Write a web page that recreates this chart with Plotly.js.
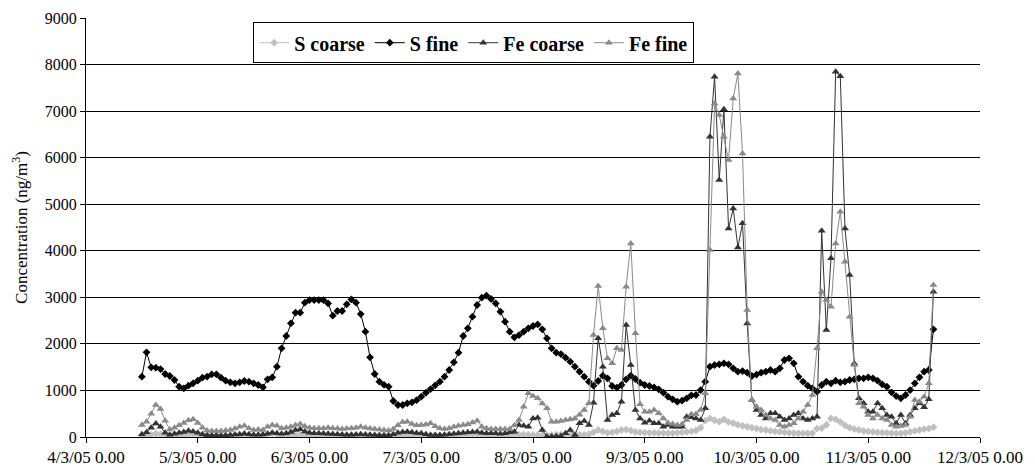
<!DOCTYPE html>
<html>
<head>
<meta charset="utf-8">
<script src="https://cdn.plot.ly/plotly-3.0.1.min.js"></script>
<style>html,body{margin:0;padding:0;background:#fff}#chart{width:1035px;height:470px}</style>
</head>
<body>
<div id="chart"></div>
<script>
// Hourly samples starting 4 March 2005 12:00
const startTime = Date.UTC(2005, 2, 4, 12, 0, 0);
const stepHours = 1;

const sCoarse = [30,40,50,70,60,40,30,30,35,40,50,60,50,40,30,25,25,25,25,30,30,35,40,35,30,30,40,60,80,60,40,35,40,45,50,45,40,35,35,35,35,30,30,30,30,35,40,40,35,30,25,25,25,25,30,35,40,45,40,35,35,35,30,30,30,35,40,45,50,50,55,60,55,50,45,40,40,35,35,40,45,50,55,50,45,45,40,40,45,50,55,60,45,45,50,50,60,100,150,120,90,100,120,150,160,140,110,100,95,90,90,85,85,80,85,90,100,110,120,140,200,350,400,360,330,380,320,300,260,240,220,200,180,160,150,130,120,110,100,90,85,80,80,75,80,180,190,260,400,380,320,250,200,170,150,130,120,110,100,95,90,85,80,80,90,110,130,150,170,180,210];

const sFine = [1296,1818,1496,1490,1460,1353,1310,1224,1081,1045,1102,1152,1210,1274,1296,1346,1346,1274,1210,1174,1152,1174,1203,1188,1152,1117,1067,1238,1281,1510,1904,2169,2441,2670,2670,2885,2942,2942,2942,2942,2870,2606,2706,2706,2849,2956,2885,2641,2262,1711,1353,1188,1120,1081,773,687,687,723,744,790,866,950,1030,1110,1188,1296,1439,1603,1811,2169,2334,2584,2835,2992,3035,2964,2870,2691,2477,2262,2140,2190,2262,2334,2384,2419,2312,2119,1904,1811,1782,1704,1618,1510,1403,1296,1188,1102,1203,1317,1260,1095,1059,1117,1238,1317,1246,1167,1117,1095,1067,1024,952,866,809,759,780,830,895,902,1009,1188,1510,1546,1560,1582,1560,1475,1403,1417,1382,1310,1340,1382,1403,1439,1403,1475,1654,1689,1582,1296,1188,1102,1045,974,1117,1188,1152,1210,1174,1188,1224,1238,1260,1260,1281,1260,1210,1131,1081,960,880,830,902,1009,1152,1281,1403,1439,2312];

const feCoarse = [57,100,200,290,220,90,50,70,90,110,136,120,90,60,40,40,35,30,35,45,55,60,75,60,50,50,55,70,90,80,70,80,110,150,165,120,90,80,80,75,70,65,60,55,50,50,55,60,55,50,45,40,35,40,60,90,110,115,100,85,79,60,43,43,43,50,60,70,80,93,100,110,115,90,79,79,79,70,79,100,115,258,240,222,400,415,150,7,10,15,21,79,150,43,293,344,258,737,2119,1510,365,472,508,759,2405,1546,580,400,308,351,293,293,222,258,222,222,222,437,422,400,365,616,6450,7740,5520,7040,4480,4910,4070,4590,2440,795,580,472,400,508,508,437,365,400,472,508,400,365,400,437,4430,2300,3840,7845,7750,4480,3480,1580,830,723,544,544,723,616,472,437,293,472,293,472,616,723,637,809,3121];

const feFine = [260,330,500,690,600,350,160,200,250,300,360,380,300,200,140,130,130,130,140,150,180,220,240,190,150,160,150,220,260,240,190,200,220,260,280,230,200,190,190,190,200,190,180,170,180,190,200,220,200,180,170,160,150,140,170,250,320,330,280,250,258,270,293,230,190,172,190,222,240,260,272,310,351,222,190,172,172,172,172,172,250,365,650,938,880,830,720,616,329,329,345,365,380,400,480,580,723,2190,3243,2334,1689,1582,1904,1868,3228,4159,2226,702,544,544,580,508,400,300,280,258,272,365,487,494,580,938,4016,7165,6915,6450,5948,7273,7810,6092,2727,795,651,580,472,400,365,258,222,258,293,400,544,687,902,1904,3121,2942,2799,4159,4839,3765,2584,1546,723,651,472,400,472,400,365,258,222,236,258,437,795,759,866,1152,3264];

const seriesNames = ['S coarse', 'S fine', 'Fe coarse', 'Fe fine'];
const tickDates = ['2005-03-04','2005-03-05','2005-03-06','2005-03-07','2005-03-08','2005-03-09','2005-03-10','2005-03-11','2005-03-12'];
const tickLabels = ['4/3/05 0.00','5/3/05 0.00','6/3/05 0.00','7/3/05 0.00','8/3/05 0.00','9/3/05 0.00','10/3/05 0.00','11/3/05 0.00','12/3/05 0.00'];
const yTicks = [0,1000,2000,3000,4000,5000,6000,7000,8000,9000];

function pad(n){return (n<10?'0':'')+n;}
function timeAt(i){
  const d = new Date(startTime + i*stepHours*3600000);
  return d.getUTCFullYear()+'-'+pad(d.getUTCMonth()+1)+'-'+pad(d.getUTCDate())+' '+pad(d.getUTCHours())+':'+pad(d.getUTCMinutes());
}
const times = sFine.map((_, i) => timeAt(i));

const styles = [
  {color:'#c0c0c0', symbol:'diamond', size:6},
  {color:'#000000', symbol:'diamond', size:6},
  {color:'#333333', symbol:'triangle-up', size:7},
  {color:'#8a8a8a', symbol:'triangle-up', size:7}
];
const data = [sCoarse, sFine, feCoarse, feFine].map((vals, k) => ({
  type:'scatter', mode:'lines+markers', name:'<b>' + seriesNames[k] + '</b>',
  x: times, y: vals,
  line:{color:styles[k].color, width:1},
  marker:{color:styles[k].color, symbol:styles[k].symbol, size:styles[k].size, line:{width:0}}
}));

const FAM = 'Liberation Serif, Times New Roman, serif';
const layout = {
  width:1035, height:470,
  margin:{l:86, r:55, t:18, b:33},
  paper_bgcolor:'#fff', plot_bgcolor:'#fff',
  font:{family:FAM, size:16, color:'#000'},
  showlegend:true,
  legend:{
    orientation:'h', x:0.187, y:0.99, xanchor:'left', yanchor:'top',
    bgcolor:'#fff', bordercolor:'#000', borderwidth:1,
    font:{family:FAM, size:20, color:'#000'},
    itemwidth:30
  },
  xaxis:{
    type:'date', range:[tickDates[0], tickDates[tickDates.length-1]],
    tickmode:'array', tickvals:tickDates, ticktext:tickLabels,
    showgrid:false, zeroline:false, showline:true, linecolor:'#000', linewidth:1,
    ticks:'outside', ticklen:5, tickcolor:'#000',
    tickfont:{family:FAM, size:17, color:'#000'}
  },
  yaxis:{
    range:[0,9000], tickmode:'array', tickvals:yTicks,
    showgrid:true, gridcolor:'#000', gridwidth:1, zeroline:false,
    showline:true, linecolor:'#000', linewidth:1,
    ticks:'outside', ticklen:5, tickcolor:'#000',
    tickfont:{family:FAM, size:16, color:'#000'},
    title:{text:'Concentration (ng/m<sup>3</sup>)', font:{family:FAM, size:17, color:'#000'}, standoff:12}
  }
};
Plotly.newPlot('chart', data, layout, {displayModeBar:false, staticPlot:true});
</script>
</body>
</html>
